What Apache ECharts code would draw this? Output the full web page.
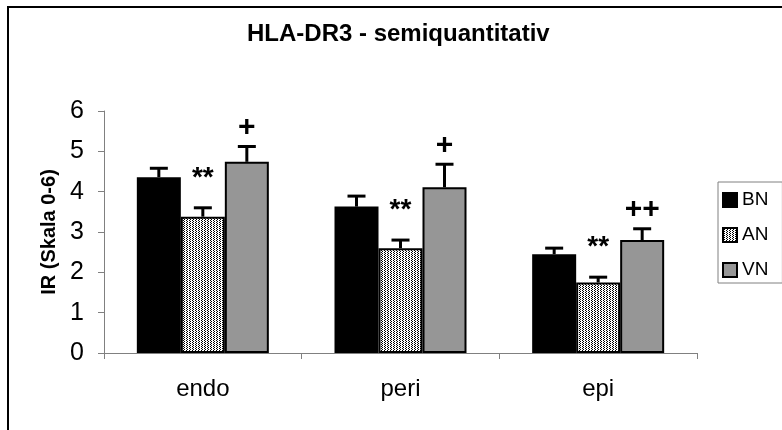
<!DOCTYPE html>
<html>
<head>
<meta charset="utf-8">
<script src="https://cdn.jsdelivr.net/npm/echarts@6/dist/echarts.min.js"></script>
<style>
html,body{margin:0;padding:0;background:#fff;}
#main{width:782px;height:430px;}
</style>
</head>
<body>
<div id="main"></div>
<script>
// ---- data ----
var categories = ['endo', 'peri', 'epi'];
var groups = ['BN', 'AN', 'VN'];
var bnVals = [4.36, 3.63, 2.45];
var bnErr = [0.22, 0.26, 0.15];
var anVals = [3.38, 2.60, 1.75];
var anErr = [0.22, 0.20, 0.13];
var vnVals = [4.74, 4.11, 2.80];
var vnErr = [0.38, 0.57, 0.28];
var anSig = ['**', '**', '**'];
var vnSig = ['+', '+', '++'];

var barW = 44;
var font = 'Liberation Sans, Arial, sans-serif';

// fine dotted fill for AN
function makeDots(){
	var c = document.createElement('canvas');
	c.width = 3; c.height = 2;
	var ctx = c.getContext('2d');
	ctx.fillStyle = '#fff';
	ctx.fillRect(0, 0, 3, 2);
	ctx.fillStyle = '#000';
	ctx.fillRect(0, 0, 1, 1);
	ctx.fillRect(1, 1, 1, 1);
	return c;
}

// error bar + significance mark for one group
function errSeries(name, vals, errs, marks, idx, markFont, markGap){
	var data = [];
	for (var i = 0; i < vals.length; i++) {
		data.push([i, vals[i], errs[i]]);
	}
	return {
		name: name,
		type: 'custom',
		z: 5,
		silent: true,
		data: data,
		renderItem: function(params, api){
			var i = api.value(0);
			var v = api.value(1);
			var e = api.value(2);
			var base = api.coord([i, v]);
			var top = api.coord([i, v + e]);
			var x = base[0] + (idx - 1) * barW;
			var st = {stroke: '#000', lineWidth: 3};
			return {
				type: 'group',
				children: [
					{type: 'line', shape: {x1: x, y1: base[1], x2: x, y2: top[1]}, style: st},
					{type: 'line', shape: {x1: x - 9, y1: top[1], x2: x + 9, y2: top[1]}, style: st},
					{type: 'text', style: {
						text: marks[params.dataIndex],
						x: x, y: top[1] - markGap,
						align: 'center', verticalAlign: 'middle',
						font: markFont, fill: '#000'
					}}
				]
			};
		}
	};
}

var chart = echarts.init(document.getElementById('main'));
var option = {
	animation: false,
	backgroundColor: '#fff',
	title: {
		text: 'HLA-DR3 - semiquantitativ',
		left: 247,
		top: 22,
		padding: 0,
		textStyle: {fontFamily: font, fontSize: 24, fontWeight: 'bold', color: '#000'}
	},
	legend: {
		data: groups,
		orient: 'vertical',
		left: 718,
		top: 182,
		padding: [8, 14, 3, 4],
		itemGap: 15,
		itemWidth: 14,
		itemHeight: 14,
		borderColor: '#808080',
		borderWidth: 1,
		icon: 'rect',
		textStyle: {fontFamily: font, fontSize: 19, lineHeight: 20, color: '#000'}
	},
	grid: {left: 104, right: 85, top: 111, bottom: 77},
	xAxis: {
		type: 'category',
		data: categories,
		axisLine: {lineStyle: {color: '#808080', width: 1}},
		axisTick: {show: true, length: 6, lineStyle: {color: '#808080'}},
		axisLabel: {fontFamily: font, fontSize: 24, color: '#000', margin: 24}
	},
	yAxis: {
		type: 'value',
		min: 0,
		max: 6,
		interval: 1,
		name: 'IR (Skala 0-6)',
		nameLocation: 'middle',
		nameGap: 40,
		nameTextStyle: {fontFamily: font, fontSize: 20, fontWeight: 'bold', color: '#000'},
		splitLine: {show: false},
		axisLine: {show: true, lineStyle: {color: '#808080', width: 1}},
		axisTick: {show: true, length: 6, lineStyle: {color: '#808080'}},
		axisLabel: {fontFamily: font, fontSize: 25, color: '#000', margin: 20}
	},
	graphic: [{
		type: 'rect',
		shape: {x: 8, y: 7, width: 900, height: 600},
		style: {fill: null, stroke: '#000', lineWidth: 2},
		silent: true
	}],
	series: [
		{name: 'BN', type: 'bar', data: bnVals, barWidth: barW, barGap: '0%',
			itemStyle: {color: '#000', borderColor: '#000', borderWidth: 2}},
		{name: 'AN', type: 'bar', data: anVals, barWidth: barW, barGap: '0%',
			itemStyle: {color: {image: makeDots(), repeat: 'repeat'}, borderColor: '#000', borderWidth: 2}},
		{name: 'VN', type: 'bar', data: vnVals, barWidth: barW, barGap: '0%',
			itemStyle: {color: '#969696', borderColor: '#000', borderWidth: 2}},
		errSeries('BN err', bnVals, bnErr, ['', '', ''], 0, '24px ' + font, 20),
		errSeries('AN err', anVals, anErr, anSig, 1, 'bold 28px ' + font, 30),
		errSeries('VN err', vnVals, vnErr, vnSig, 2, 'bold 30px ' + font, 19)
	]
};
chart.setOption(option);
</script>
</body>
</html>
